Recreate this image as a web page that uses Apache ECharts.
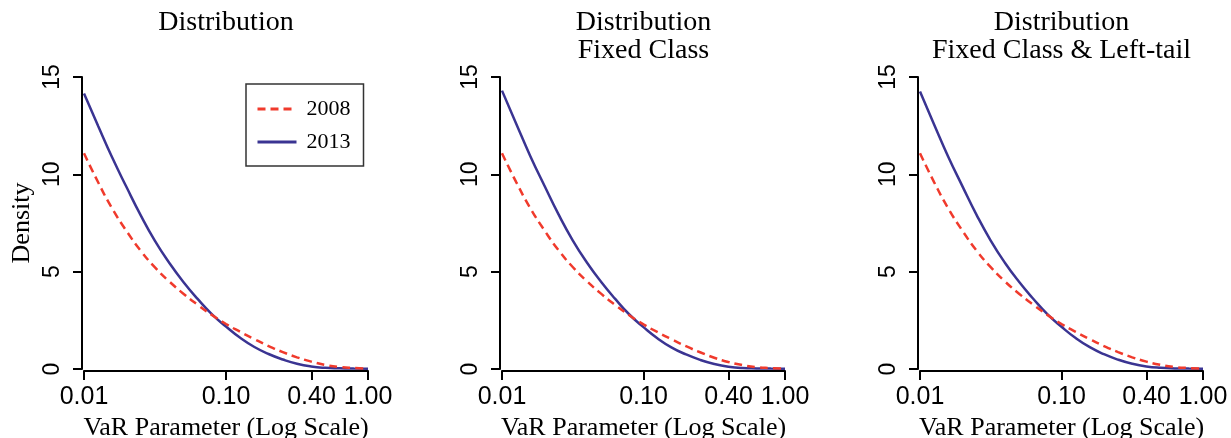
<!DOCTYPE html>
<html>
<head>
<meta charset="utf-8">
<script src="https://cdn.jsdelivr.net/npm/echarts@6.0.0/dist/echarts.min.js"></script>
<style>
html, body { margin: 0; padding: 0; background: #fff; }
#var-density-graph { width: 1231px; height: 438px; }
</style>
</head>
<body>
<div id="var-density-graph"></div>
<script>
/* VaR parameter grid (log spaced, 0.01 .. 1.00). */
var var_param = [0.01, 0.0126, 0.0158, 0.02, 0.0251, 0.0316, 0.0398, 0.0501, 0.0631, 0.0794,
                 0.1, 0.1259, 0.1585, 0.1995, 0.2512, 0.3162, 0.3981, 0.5012, 0.631, 0.7943, 1.0];
var tick_values = [0.01, 0.1, 0.4, 1];
var panel_titles = ['Distribution', 'Distribution\nFixed Class', 'Distribution\nFixed Class & Left-tail'];

/* Density values. */
var density_2008_p1 = [11.08, 9.58, 8.24, 7.07, 6.07, 5.22, 4.5, 3.87, 3.3, 2.78, 2.31, 1.91, 1.53, 1.18, 0.87, 0.6, 0.38, 0.21, 0.1, 0.05, 0.02];
var density_2013_p1 = [14.15, 12.47, 10.86, 9.32, 7.89, 6.58, 5.46, 4.47, 3.6, 2.82, 2.18, 1.6, 1.13, 0.77, 0.49, 0.27, 0.13, 0.06, 0.035, 0.02, 0.01];
var density_2008_p2 = [11.08, 9.6, 8.28, 7.11, 6.1, 5.24, 4.51, 3.87, 3.29, 2.76, 2.29, 1.89, 1.52, 1.17, 0.86, 0.58, 0.36, 0.2, 0.09, 0.05, 0.02];
var density_2013_p2 = [14.3, 12.6, 10.96, 9.4, 7.94, 6.61, 5.47, 4.48, 3.6, 2.8, 2.15, 1.57, 1.1, 0.75, 0.47, 0.26, 0.12, 0.05, 0.03, 0.02, 0.01];
var density_2008_p3 = [11.08, 9.59, 8.26, 7.09, 6.08, 5.23, 4.5, 3.87, 3.3, 2.78, 2.31, 1.91, 1.53, 1.18, 0.87, 0.6, 0.38, 0.21, 0.1, 0.05, 0.02];
var density_2013_p3 = [14.25, 12.55, 10.92, 9.37, 7.92, 6.6, 5.46, 4.48, 3.61, 2.82, 2.17, 1.59, 1.12, 0.76, 0.48, 0.27, 0.13, 0.06, 0.03, 0.02, 0.01];

var density_2008 = [density_2008_p1, density_2008_p2, density_2008_p3];
var density_2013 = [density_2013_p1, density_2013_p2, density_2013_p3];

var color_2008 = '#f03a2c';
var color_2013 = '#3a3492';
var serif_font = '"Liberation Serif", "Times New Roman", serif';
var sans_font = '"Liberation Sans", Arial, sans-serif';

var panel_left = [84, 502, 920];
var panel_width = [284, 283, 283];

function zip(xs, ys) {
    var out = [];
    for (var i = 0; i < xs.length; i++) {
        out.push([xs[i], ys[i]]);
    }
    return out;
}

var echarts_density_graph = echarts.init(document.getElementById('var-density-graph'));
var echarts_density_options = {
    animation: false,
    backgroundColor: '#fff',
    title: [],
    legend: {
        data: ['2008', '2013'],
        orient: 'vertical',
        left: 246,
        top: 84,
        padding: [14, 13, 13, 10],
        itemGap: 11,
        itemWidth: 39,
        itemHeight: 14,
        borderColor: '#333',
        borderWidth: 1.5,
        selectedMode: false,
        itemStyle: { opacity: 0 },
        lineStyle: { width: 3 },
        textStyle: {
            fontFamily: serif_font,
            fontSize: 22,
            lineHeight: 22,
            color: '#000',
            padding: [0, 0, 0, 5]
        }
    },
    grid: [],
    xAxis: [],
    yAxis: [],
    series: []
};

for (var p = 0; p < 3; p++) {
    echarts_density_options.title.push({
        text: panel_titles[p],
        left: panel_left[p] + panel_width[p] / 2,
        top: 9,
        textAlign: 'center',
        padding: 0,
        textStyle: {
            fontFamily: serif_font,
            fontSize: 28,
            lineHeight: 28,
            fontWeight: 'normal',
            color: '#000'
        }
    });
    echarts_density_options.grid.push({
        left: panel_left[p],
        width: panel_width[p],
        top: 77,
        height: 292,
        outerBoundsMode: 'none',
        containLabel: false
    });
    echarts_density_options.xAxis.push({
        type: 'log',
        logBase: 10,
        min: 0.01,
        max: 1,
        gridIndex: p,
        offset: 2,
        name: 'VaR Parameter (Log Scale)',
        nameLocation: 'middle',
        nameGap: 44,
        nameTextStyle: { fontFamily: serif_font, fontSize: 26, color: '#000' },
        axisLine: { onZero: false, lineStyle: { color: '#000', width: 2 } },
        axisTick: { customValues: tick_values, length: 9, lineStyle: { color: '#000', width: 2 } },
        axisLabel: {
            customValues: tick_values,
            formatter: function (v) { return Number(v).toFixed(2); },
            fontFamily: sans_font,
            fontSize: 25,
            color: '#000',
            margin: 14
        },
        splitLine: { show: false },
        minorTick: { show: false }
    });
    echarts_density_options.yAxis.push({
        type: 'value',
        min: 0,
        max: 15,
        interval: 5,
        gridIndex: p,
        offset: 2,
        name: p === 0 ? 'Density' : '',
        nameLocation: 'middle',
        nameGap: 47,
        nameTextStyle: { fontFamily: serif_font, fontSize: 26, color: '#000' },
        axisLine: { show: true, lineStyle: { color: '#000', width: 2 } },
        axisTick: { show: true, length: 9, lineStyle: { color: '#000', width: 2 } },
        axisLabel: {
            rotate: 90,
            fontFamily: sans_font,
            fontSize: 23,
            color: '#000',
            margin: 18
        },
        splitLine: { show: false }
    });
    echarts_density_options.series.push({
        name: '2013',
        type: 'line',
        xAxisIndex: p,
        yAxisIndex: p,
        smooth: true,
        symbol: 'none',
        color: color_2013,
        lineStyle: { color: color_2013, width: 2.5 },
        data: zip(var_param, density_2013[p])
    });
    echarts_density_options.series.push({
        name: '2008',
        type: 'line',
        xAxisIndex: p,
        yAxisIndex: p,
        smooth: true,
        symbol: 'none',
        color: color_2008,
        lineStyle: { color: color_2008, width: 2.5, type: [8, 5] },
        data: zip(var_param, density_2008[p])
    });
}

echarts_density_graph.setOption(echarts_density_options);
</script>
</body>
</html>
